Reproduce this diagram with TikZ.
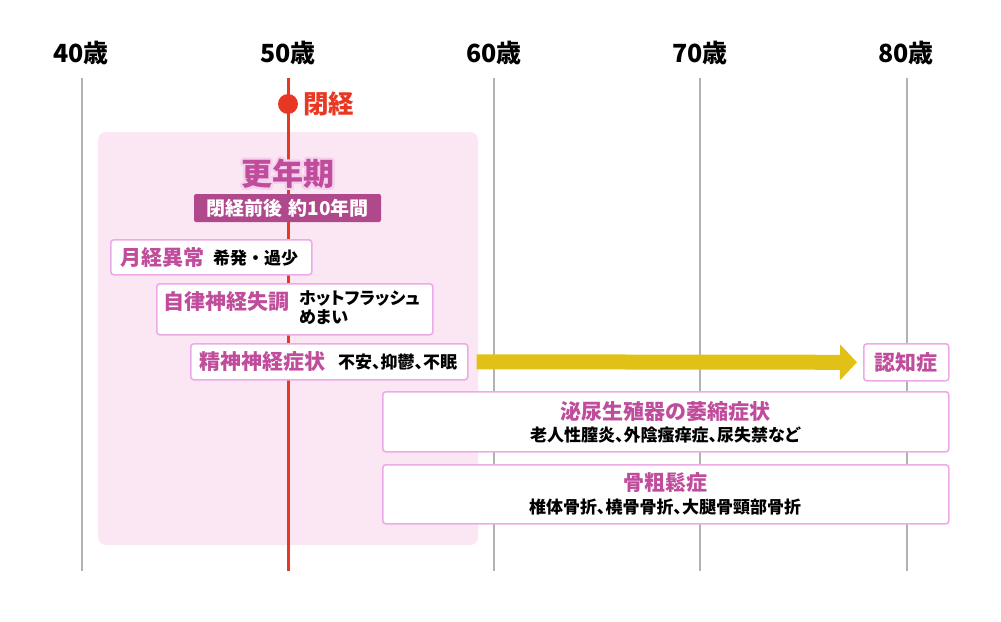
\documentclass[tikz,border=0pt]{standalone}
\usepackage{fontspec}
\usepackage[copies]{contour}
\usetikzlibrary{arrows.meta,calc}
\newfontfamily\jp{Noto Sans CJK JP}
\newfontfamily\jpp{Noto Sans CJK JP}[RawFeature=+palt]
\definecolor{mag}{RGB}{192,76,156}
\definecolor{badge}{RGB}{176,73,140}
\definecolor{boxc}{RGB}{238,170,232}
\definecolor{pinkbg}{RGB}{251,230,243}
\definecolor{axisc}{RGB}{178,178,178}
\definecolor{redc}{RGB}{232,56,35}
\definecolor{yel}{RGB}{226,193,22}
\definecolor{glow}{RGB}{247,208,237}
\contourlength{2.2pt}
\contournumber{16}
\tikzset{
  axislbl/.style={font=\jp\bfseries\fontsize{25pt}{30pt}\selectfont, text=black, inner sep=0pt},
  axisline/.style={draw=axisc, line width=2pt},
  sbox/.style={draw=boxc, line width=1.6pt, fill=white, rounded corners=3pt, inner sep=0pt},
  ttl/.style={font=\jp\bfseries\fontsize{21pt}{25pt}\selectfont, text=mag, inner sep=0pt},
  sub/.style={font=\jpp\bfseries\fontsize{17pt}{19pt}\selectfont, text=black, inner sep=0pt, align=left},
  subn/.style={font=\jp\bfseries\fontsize{17pt}{19pt}\selectfont, text=black, inner sep=0pt},
  bigttl/.style={font=\jp\bfseries\fontsize{31pt}{34pt}\selectfont, inner sep=0pt},
}
\begin{document}
\begin{tikzpicture}[x=1pt,y=-1pt]
\useasboundingbox (0,0) rectangle (1001,621);
% background period
\fill[pinkbg, rounded corners=8pt] (98,132) rectangle (478,545);
% axis
\foreach \xx/\lab/\nm in {81/40/a40,288/50/a50,494/60/a60,700/70/a70,906/80/a80}{
  \node[axislbl] (\nm) at (\xx,52.5) {\lab 歳};
}
\foreach \xx in {82,494,700,907}{
  \draw[axisline] (\xx,78) -- (\xx,571);
}
\coordinate (redtop) at (288,78);
\coordinate (redbot) at (288,571);
\draw[redc, line width=3pt] (redtop) -- (redbot);
\node[circle, fill=redc, minimum size=20pt, inner sep=0pt] (dot) at (288,104) {};
\node[font=\jp\bfseries\fontsize{25.5pt}{30pt}\selectfont, text=redc, inner sep=0pt, anchor=west] (heikei) at (303,104) {閉経};
% konenki
\node[bigttl, text=mag] (konenki) at (288,175) {\contour{glow}{更年期}};
\node[fill=badge, rounded corners=2pt, minimum width=187pt, minimum height=28pt, inner sep=0pt,
  font=\jp\bfseries\fontsize{19pt}{22pt}\selectfont, text=white] (badgeN) at (287.5,208) {閉経前後\hspace{0.35em}約10年間};
% boxes
\node[sbox, anchor=north west, minimum width=201pt, minimum height=35pt] (b1) at (110,239) {};
\node[ttl, anchor=west] (b1t) at (120,257.5) {月経異常};
\node[subn, anchor=west] (b1s) at (213,258) {希発・過少};

\node[sbox, anchor=north west, minimum width=276pt, minimum height=51pt] (b2) at (156,283) {};
\node[ttl, anchor=west] (b2t) at (163,302) {自律神経失調};
\node[sub, anchor=north west] (b2s) at (299,291) {ホットフラッシュ\\めまい};

\node[sbox, anchor=north west, minimum width=277pt, minimum height=36pt] (b3) at (190,343) {};
\node[ttl, anchor=west] (b3t) at (199,362) {精神神経症状};
\node[sub, anchor=west] (b3s) at (338,362) {不安、抑鬱、不眠};

\node[sbox, anchor=north west, minimum width=85pt, minimum height=37pt] (b4) at (863,343) {};
\node[ttl] (b4t) at (b4.center) {認知症};

\draw[yel, line width=15pt, -{Triangle[length=17pt,width=35pt]}]
  ($(b3.east)+(8,0)$) -- ($(b4.west)+(-6,0)$);

\node[sbox, anchor=north west, minimum width=566pt, minimum height=60pt] (b5) at (382,391) {};
\node[ttl] (b5t) at (665,412) {泌尿生殖器の萎縮症状};
\node[sub] (b5s) at (665,435.5) {老人性膣炎、外陰瘙痒症、尿失禁など};

\node[sbox, anchor=north west, minimum width=566pt, minimum height=59pt] (b6) at (382,464) {};
\node[ttl] (b6t) at (665,483) {骨粗鬆症};
\node[sub] (b6s) at (665,507) {椎体骨折、橈骨骨折、大腿骨頸部骨折};
\end{tikzpicture}
\end{document}
